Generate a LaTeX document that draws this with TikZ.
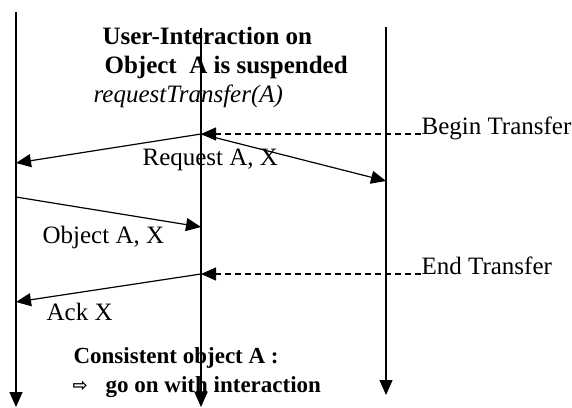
\documentclass[tikz,border=0pt]{standalone}
\usepackage{fontspec}
\setmainfont{Liberation Serif}
\newfontfamily\symfont{DejaVu Sans}
\usetikzlibrary{arrows.meta}
\begin{document}
\begin{tikzpicture}[x=1pt,y=-1pt,
  line width=1.2pt,
  tip/.style={-{Triangle[length=15pt,width=13pt]}},
  life/.style={tip},
  msg/.style={tip},
  dash msg/.style={tip,dash pattern=on 6pt off 4pt},
  lbl/.style={inner sep=0pt,anchor=base west,font=\fontsize{25}{28}\selectfont},
  blbl/.style={inner sep=0pt,anchor=base west,font=\fontsize{25}{28}\selectfont\bfseries},
  blbls/.style={inner sep=0pt,anchor=base west,font=\fontsize{23}{26}\selectfont\bfseries},
  ilbl/.style={inner sep=0pt,anchor=base west,font=\fontsize{25}{28}\selectfont\itshape}]
\useasboundingbox (0,0) rectangle (572,407);
% lifelines
\coordinate (L0) at (16,12);  \coordinate (L1) at (16,407);
\coordinate (M0) at (201,28); \coordinate (M1) at (201,407);
\coordinate (R0) at (386,27); \coordinate (R1) at (386,395);
\draw[life] (L0) -- (L1);
\draw[life] (M0) -- (M1);
\draw[life] (R0) -- (R1);
% text
\node[blbl] (t1) at (102,44) {User-Interaction on};
\node[blbl] (t2) at (104,73) {Object\ \ A is suspended};
\node[ilbl] (t3) at (93,102) {requestTransfer(A)};
\node[lbl] (bt) at (421,134) {Begin Transfer};
\node[lbl] (ra) at (142,165) {Request A, X};
\node[lbl] (oa) at (42,243) {Object A, X};
\node[lbl] (et) at (421,274) {End Transfer};
\node[lbl] (ak) at (46,320) {Ack X};
\node[blbls] (c1) at (73,363) {Consistent object A :};
\node[blbls] (c2) at (72,392) {{\symfont\fontsize{18}{20}\selectfont\raisebox{1pt}{⇨}}\hspace{18pt}go on with interaction};
% message points
\coordinate (bs) at (bt.base west);
\coordinate (b1) at (201,134);
\coordinate (r1) at (16,163);
\coordinate (r2) at (386,181);
\coordinate (o1) at (16,197);
\coordinate (o2) at (201,227);
\coordinate (es) at (et.base west);
\coordinate (e1) at (201,274);
\coordinate (a1) at (16,302);
% messages
\draw[dash msg] (bs) -- (b1);
\draw[msg] (b1) -- (r1);
\draw[msg] (b1) -- (r2);
\draw[msg] (o1) -- (o2);
\draw[dash msg] (es) -- (e1);
\draw[msg] (e1) -- (a1);
\end{tikzpicture}
\end{document}
